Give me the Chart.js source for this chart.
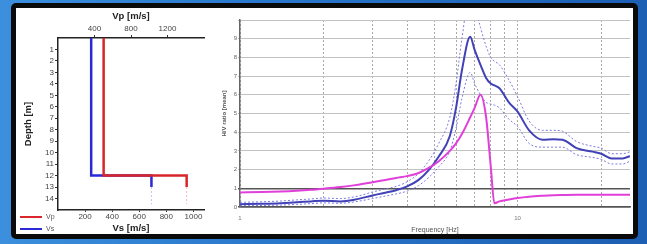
<!DOCTYPE html>
<html>
<head>
<meta charset="utf-8">
<script src="https://cdn.jsdelivr.net/npm/chart.js@4.4.1/dist/chart.umd.min.js"></script>
<style>
  body { margin: 0; width: 647px; height: 244px; overflow: hidden;
         background: linear-gradient(to right, #3b8fdc, #2a78cc 40%, #1d5fb2); font-family: "Liberation Sans", Arial, sans-serif; }
  #frame { position: absolute; left: 11px; top: 3px; width: 617px; height: 226px;
           border: 5px solid #0a0a0a; border-radius: 5px; background: #fff; }
  canvas { position: absolute; }
  .leg { position: absolute; font-size: 7px; color: #555; }
  .leg span { display: inline-block; width: 22px; height: 2px; vertical-align: middle; margin-right: 4px; }
</style>
</head>
<body>
<div id="frame"></div>
<canvas id="profile" width="205" height="226" style="left:16px;top:8px"></canvas>
<canvas id="hv" width="412" height="226" style="left:221px;top:8px"></canvas>
<div class="leg" style="left:20px;top:213px"><span style="background:#d8262a"></span>Vp</div>
<div class="leg" style="left:20px;top:225px"><span style="background:#2a2ad6"></span>Vs</div>
<script>
// velocity profile
const depthTicks = [1, 2, 3, 4, 5, 6, 7, 8, 9, 10, 11, 12, 13, 14];
const vpTicks = [400, 800, 1200];
const vsTicks = [200, 400, 600, 800, 1000];
const layerDepth = [0, 12, 12, 13];
const vpValues = [500, 500, 1410, 1410];
const vsValues = [245, 245, 690, 690];
const tailDepth = [13, 14.5];
const vpTail = [1410, 1410];
const vsTail = [690, 690];

// H/V curve
const freqHz = [1, 1.2, 1.4, 1.6, 1.8, 2, 2.3, 2.6, 3, 3.3, 3.65, 4, 4.4, 4.8, 5.2, 5.7, 6, 6.3, 6.75, 7, 7.35, 7.7, 8, 8.25, 8.6, 9.3, 10, 11, 12.3, 13.5, 14.5, 16.3, 18.6, 20, 21.8, 23.9, 25.4];
const hvMean = [0.15, 0.17, 0.2, 0.25, 0.3, 0.34, 0.3, 0.4, 0.62, 0.75, 0.9, 1.1, 1.45, 2.0, 2.7, 3.8, 5.3, 7.3, 9.1, 8.4, 7.6, 6.9, 6.6, 6.5, 6.35, 5.6, 5.1, 4.1, 3.6, 3.62, 3.6, 3.15, 2.96, 2.85, 2.6, 2.6, 2.72];
const hvUpper = [0.25, 0.28, 0.32, 0.38, 0.43, 0.48, 0.45, 0.55, 0.8, 0.95, 1.1, 1.35, 1.8, 2.5, 3.4, 4.8, 6.6, 9.0, 11.5, 10.8, 9.6, 8.6, 8.0, 7.8, 7.6, 6.8, 5.9, 4.6, 4.1, 4.1, 4.05, 3.5, 3.25, 3.15, 2.85, 2.85, 2.95];
const hvLower = [0.07, 0.08, 0.1, 0.14, 0.18, 0.22, 0.2, 0.28, 0.45, 0.57, 0.7, 0.85, 1.15, 1.6, 2.15, 3.0, 4.2, 5.8, 7.2, 6.6, 6.0, 5.6, 5.5, 5.45, 5.3, 4.7, 4.3, 3.4, 3.2, 3.2, 3.2, 2.8, 2.65, 2.55, 2.3, 2.3, 2.45];
const hvModel = [0.78, 0.8, 0.83, 0.87, 0.92, 0.98, 1.07, 1.17, 1.32, 1.43, 1.55, 1.65, 1.82, 2.1, 2.45, 3.0, 3.4, 3.9, 4.8, 5.3, 6.0, 4.8, 2.2, 0.2, 0.3, 0.4, 0.48, 0.55, 0.6, 0.63, 0.64, 0.65, 0.65, 0.65, 0.65, 0.65, 0.65];
const freqGrid = [1, 2, 3, 4, 5, 6, 7, 8, 9, 10, 20];
const hvTicks = [0, 1, 2, 3, 4, 5, 6, 7, 8, 9, 10];

const font = "'Liberation Sans', Arial, sans-serif";

function pts(xs, ys) {
  return xs.map((x, i) => ({x: x, y: ys[i]}));
}

function fixTicks(list) {
  return function (scale) { scale.ticks = list.map(v => ({value: v})); };
}

const plain = v => String(v);

new Chart(document.getElementById('profile'), {
  type: 'scatter',
  data: {
    datasets: [
      {label: 'Vp', data: pts(vpValues, layerDepth), xAxisID: 'xVp', showLine: true, borderColor: '#d8262a', borderWidth: 2.5, pointRadius: 0},
      {label: 'Vs', data: pts(vsValues, layerDepth), xAxisID: 'xVs', showLine: true, borderColor: '#2a2ad6', borderWidth: 2.5, pointRadius: 0},
      {data: pts(vpTail, tailDepth), xAxisID: 'xVp', showLine: true, borderColor: '#f2b8b8', borderWidth: 1, borderDash: [2, 2], pointRadius: 0},
      {data: pts(vsTail, tailDepth), xAxisID: 'xVs', showLine: true, borderColor: '#b8c8f0', borderWidth: 1, borderDash: [2, 2], pointRadius: 0}
    ]
  },
  options: {
    responsive: false,
    animation: false,
    events: [],
    layout: {padding: {right: 17}},
    plugins: {legend: {display: false}, tooltip: {enabled: false}},
    scales: {
      xVp: {
        type: 'linear', position: 'top', min: 0, max: 1600,
        afterBuildTicks: fixTicks(vpTicks),
        afterFit: s => { s.height = 30; },
        grid: {drawOnChartArea: false, tickLength: 3, color: '#333'},
        border: {color: '#222', width: 1.5},
        ticks: {font: {size: 8, family: font}, color: '#444', padding: 1, maxRotation: 0, callback: plain},
        title: {display: true, text: 'Vp [m/s]', font: {size: 9.5, weight: 'bold', family: font}, color: '#222', padding: {top: 3, bottom: 2}}
      },
      xVs: {
        type: 'linear', position: 'bottom', min: 0, max: 1078,
        afterBuildTicks: fixTicks(vsTicks),
        afterFit: s => { s.height = 24; },
        grid: {drawOnChartArea: false, tickLength: 2, color: '#333'},
        border: {color: '#222', width: 1.5},
        ticks: {font: {size: 8, family: font}, color: '#444', padding: 0, maxRotation: 0, callback: plain},
        title: {display: true, text: 'Vs [m/s]', font: {size: 9.5, weight: 'bold', family: font}, color: '#222', padding: {top: 3, bottom: 0}}
      },
      y: {
        type: 'linear', reverse: true, min: 0, max: 15,
        afterBuildTicks: fixTicks(depthTicks),
        afterFit: s => { s.width = 42; },
        grid: {drawOnChartArea: false, tickLength: 3, color: '#333'},
        border: {color: '#222', width: 1.5},
        ticks: {font: {size: 8, family: font}, color: '#444', padding: 1, autoSkip: false},
        title: {display: true, text: 'Depth [m]', font: {size: 9.5, weight: 'bold', family: font}, color: '#222', padding: {top: 7, bottom: 0}}
      }
    }
  }
});

new Chart(document.getElementById('hv'), {
  type: 'line',
  data: {
    labels: freqHz,
    datasets: [
      {data: pts(freqHz, hvModel), borderColor: '#e13fd9', borderWidth: 2},
      {data: pts(freqHz, hvMean), borderColor: '#4141b8', borderWidth: 2},
      {data: pts(freqHz, hvUpper), borderColor: '#7a7ae0', borderWidth: 1, borderDash: [2, 2]},
      {data: pts(freqHz, hvLower), borderColor: '#7a7ae0', borderWidth: 1, borderDash: [2, 2]}
    ]
  },
  options: {
    responsive: false,
    animation: false,
    events: [],
    layout: {padding: {top: 12, right: 3}},
    elements: {point: {radius: 0}, line: {cubicInterpolationMode: 'monotone'}},
    plugins: {legend: {display: false}, tooltip: {enabled: false}},
    scales: {
      x: {
        type: 'logarithmic', min: 1, max: 25.4,
        afterBuildTicks: fixTicks(freqGrid),
        afterFit: s => { s.height = 27; },
        grid: {color: '#a8a8a8', lineWidth: 1, drawTicks: false},
        border: {color: '#555', width: 1.5, dash: [2, 2]},
        ticks: {autoSkip: false, maxRotation: 0, padding: 8, font: {size: 6, family: font}, color: '#777',
          callback: v => (v === 1 || v === 10) ? String(v) : ''},
        title: {display: true, text: 'Frequency [Hz]', font: {size: 7, family: font}, color: '#555', padding: {top: 3, bottom: 0}}
      },
      y: {
        type: 'linear', min: 0, max: 10,
        afterBuildTicks: fixTicks(hvTicks),
        afterFit: s => { s.width = 19; },
        grid: {
          color: c => (c.tick && c.tick.value <= 1) ? '#555' : '#c2c2c2',
          lineWidth: c => (c.tick && c.tick.value <= 1) ? 1.5 : 1,
          tickLength: 2
        },
        border: {color: '#666', width: 1.5},
        ticks: {autoSkip: false, padding: 1, font: {size: 6, family: font}, color: '#666',
          callback: v => v < 10 ? String(v) : ''},
        title: {display: true, text: 'H/V ratio [mean]', font: {size: 6, weight: 'bold', family: font}, color: '#555', padding: 0}
      }
    }
  }
});
</script>
</body>
</html>
